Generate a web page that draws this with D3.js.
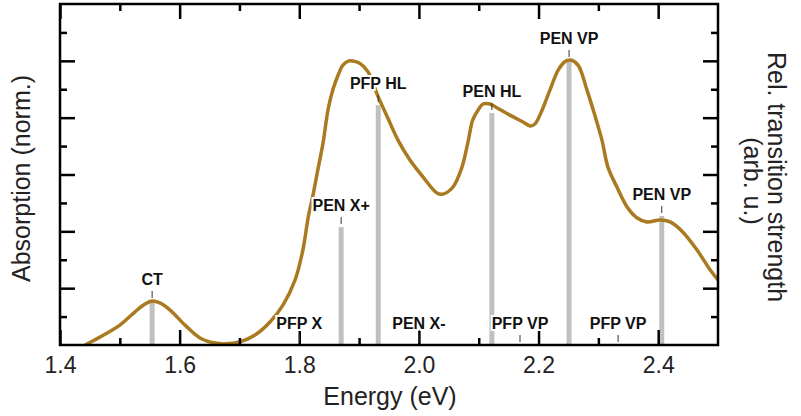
<!DOCTYPE html>
<html>
<head>
<meta charset="utf-8">
<script src="https://cdn.jsdelivr.net/npm/d3@7"></script>
<style>
  html, body { margin: 0; padding: 0; background: #fff; }
  svg { display: block; font-family: "Liberation Sans", Arial, sans-serif; }
</style>
</head>
<body>
<svg id="chart" width="801" height="416"></svg>
<script>
// absorption spectrum (normalized)
const absEnergy = [1.442, 1.467, 1.500, 1.525, 1.542, 1.554, 1.567, 1.584, 1.609, 1.634,
  1.659, 1.676, 1.701, 1.726, 1.751, 1.773, 1.793, 1.806, 1.815, 1.823,
  1.831, 1.840, 1.848, 1.856, 1.865, 1.873, 1.883, 1.893, 1.902, 1.915,
  1.932, 1.948, 1.965, 1.985, 2.007, 2.030, 2.040, 2.057, 2.072, 2.082,
  2.090, 2.099, 2.107, 2.119, 2.131, 2.152, 2.174, 2.186, 2.194, 2.206,
  2.219, 2.233, 2.244, 2.253, 2.266, 2.281, 2.294, 2.306, 2.316, 2.331,
  2.348, 2.365, 2.381, 2.403, 2.420, 2.441, 2.465, 2.487, 2.500];
const absValue = [0.000, 0.028, 0.070, 0.116, 0.144, 0.155, 0.148, 0.123, 0.070, 0.025,
  0.007, 0.004, 0.011, 0.035, 0.081, 0.141, 0.229, 0.334, 0.450, 0.528,
  0.616, 0.714, 0.827, 0.897, 0.950, 0.985, 1.000, 0.998, 0.990, 0.961,
  0.873, 0.799, 0.721, 0.651, 0.591, 0.535, 0.531, 0.556, 0.626, 0.714,
  0.792, 0.827, 0.848, 0.848, 0.834, 0.809, 0.785, 0.771, 0.778, 0.827,
  0.897, 0.968, 0.997, 1.003, 0.985, 0.897, 0.809, 0.721, 0.626, 0.556,
  0.486, 0.447, 0.433, 0.440, 0.433, 0.398, 0.334, 0.264, 0.229];

// calculated transitions
const transLabel = ["CT", "PFP X", "PEN X+", "PFP HL", "PEN X-", "PEN HL", "PFP VP", "PEN VP", "PFP VP", "PEN VP"];
const transEnergy = [1.554, 1.800, 1.870, 1.932, 2.000, 2.122, 2.169, 2.251, 2.333, 2.406];
const transStrength = [0.155, 0, 0.415, 0.844, 0, 0.816, 0, 1.003, 0, 0.454];

// axis ticks
const xMajor = [1.4, 1.6, 1.8, 2.0, 2.2, 2.4];
const xMinor = [1.5, 1.7, 1.9, 2.1, 2.3];
const yMajor = [0.2, 0.4, 0.6, 0.8, 1.0];
const yMinor = [0.1, 0.3, 0.5, 0.7, 0.9, 1.1];

const svg = d3.select("#chart");
const plotL = 60, plotR = 718, plotT = 4, plotB = 345;

const x = d3.scaleLinear().domain([1.4, 2.5]).range([plotL, plotR]);
const y = d3.scaleLinear().domain([0, 1.2]).range([plotB, plotT]);

// transition bars
const trans = transEnergy.map((e, i) => ({label: transLabel[i], e: e, s: transStrength[i]}));
svg.append("g").selectAll("line")
  .data(trans.filter(d => d.s > 0))
  .join("line")
  .attr("x1", d => x(d.e)).attr("x2", d => x(d.e))
  .attr("y1", y(0)).attr("y2", d => y(d.s))
  .attr("stroke", "#c0c0c0")
  .attr("stroke-width", 5);

// absorption curve
const pts = absEnergy.map((e, i) => [e, absValue[i]]);
svg.append("path")
  .datum(pts)
  .attr("fill", "none")
  .attr("stroke", "#a97a1f")
  .attr("stroke-width", 3.5)
  .attr("stroke-linejoin", "round")
  .attr("d", d3.line().x(d => x(d[0])).y(d => y(d[1])).curve(d3.curveCatmullRom.alpha(0.5)));

// axes: ticks on all four sides, pointing inward
function addAxis(axisFn, pos, values, size, withLabels) {
  const a = axisFn(axisFn === d3.axisBottom || axisFn === d3.axisTop ? x : y)
    .tickValues(values)
    .tickSize(-size)
    .tickSizeOuter(0)
    .tickPadding(12)
    .tickFormat(withLabels ? d3.format(".1f") : "");
  const g = svg.append("g").attr("transform", pos).call(a);
  g.select(".domain").remove();
  g.selectAll(".tick line").attr("stroke", "#000").attr("stroke-width", 2.5);
  g.selectAll(".tick text").attr("font-size", 23).attr("fill", "#222")
    .attr("font-family", "'Liberation Sans', Arial, sans-serif");
  return g;
}
addAxis(d3.axisBottom, `translate(0,${plotB})`, xMajor, 15, true);
addAxis(d3.axisBottom, `translate(0,${plotB})`, xMinor, 7, false);
addAxis(d3.axisTop, `translate(0,${plotT})`, xMajor, 15, false);
addAxis(d3.axisTop, `translate(0,${plotT})`, xMinor, 7, false);
addAxis(d3.axisLeft, `translate(${plotL},0)`, yMajor, 15, false);
addAxis(d3.axisLeft, `translate(${plotL},0)`, yMinor, 7, false);
addAxis(d3.axisRight, `translate(${plotR},0)`, yMajor, 15, false);
addAxis(d3.axisRight, `translate(${plotR},0)`, yMinor, 7, false);

// frame
svg.append("rect")
  .attr("x", plotL).attr("y", plotT)
  .attr("width", plotR - plotL).attr("height", plotB - plotT)
  .attr("fill", "none").attr("stroke", "#000").attr("stroke-width", 2.5);

// marker ticks and labels above each transition
const ann = svg.append("g");
ann.selectAll("line")
  .data(trans)
  .join("line")
  .attr("x1", d => x(d.e)).attr("x2", d => x(d.e))
  .attr("y1", d => y(d.s) - 10).attr("y2", d => y(d.s) - 3)
  .attr("stroke", "#333").attr("stroke-width", 1);
ann.selectAll("text")
  .data(trans)
  .join("text")
  .attr("x", d => x(d.e))
  .attr("y", d => y(d.s) - 16)
  .attr("text-anchor", "middle")
  .attr("font-size", 16)
  .attr("font-weight", "bold")
  .attr("fill", "#111")
  .attr("stroke", "#fff")
  .attr("stroke-width", 4)
  .attr("paint-order", "stroke")
  .text(d => d.label);

// axis titles
svg.append("text")
  .attr("x", (plotL + plotR) / 2 + 1).attr("y", 405)
  .attr("text-anchor", "middle").attr("font-size", 25).attr("fill", "#222")
  .text("Energy (eV)");

svg.append("text")
  .attr("transform", `translate(30,${(plotT + plotB) / 2 + 4}) rotate(-90)`)
  .attr("text-anchor", "middle").attr("font-size", 25).attr("fill", "#222")
  .text("Absorption (norm.)");

const rt = svg.append("g").attr("font-size", 25).attr("fill", "#222").attr("text-anchor", "middle");
rt.append("text")
  .attr("transform", `translate(768,177) rotate(90)`)
  .text("Rel. transition strength");
rt.append("text")
  .attr("transform", `translate(744,181) rotate(90)`)
  .text("(arb. u.)");
</script>
</body>
</html>
